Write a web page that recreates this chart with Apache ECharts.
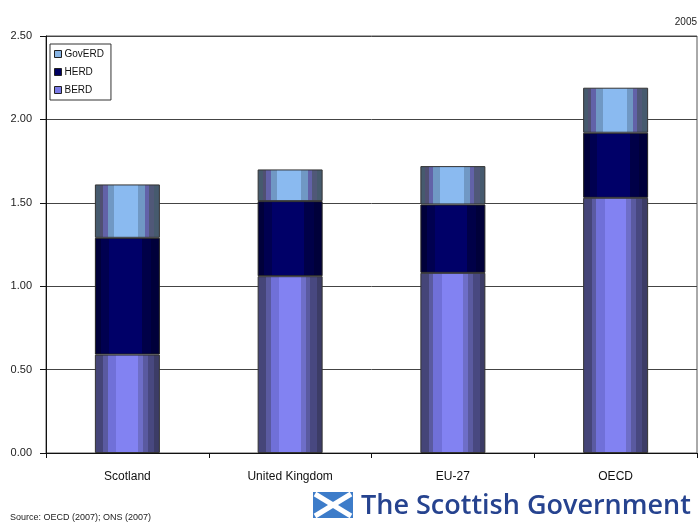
<!DOCTYPE html>
<html>
<head>
<meta charset="utf-8">
<script src="https://cdn.jsdelivr.net/npm/echarts@6/dist/echarts.min.js"></script>
<style>
html,body{margin:0;padding:0;background:#fff;}
#chart{width:699px;height:522px;}
</style>
</head>
<body>
<div id="chart"></div>
<script>
const categories = ['Scotland', 'United Kingdom', 'EU-27', 'OECD'];
const berd = [0.59, 1.06, 1.08, 1.53];
const herd = [0.70, 0.45, 0.41, 0.39];
const goverd = [0.32, 0.19, 0.23, 0.27];
const legendNames = ['GovERD', 'HERD', 'BERD'];
const yMin = 0, yMax = 2.5, yStep = 0.5;

const narrow = "'Liberation Sans Narrow', 'Arial Narrow', 'Liberation Sans', sans-serif";

function bands(list) {
  const stops = [];
  let start = 0;
  list.forEach(function (b) {
    stops.push({offset: start, color: b[1]});
    stops.push({offset: b[0], color: b[1]});
    start = b[0];
  });
  return new echarts.graphic.LinearGradient(0, 0, 1, 0, stops);
}

const berdFill = bands([
  [0.13, '#454578'], [0.20, '#5a5aa0'], [0.33, '#7070d8'], [0.66, '#8282f2'],
  [0.74, '#6e6ec8'], [0.81, '#5a5aa0'], [0.91, '#484880'], [1, '#3c3c66']
]);
const herdFill = bands([
  [0.10, '#00003a'], [0.22, '#000050'], [0.72, '#000068'], [0.86, '#000048'], [1, '#00003a']
]);
const govFill = bands([
  [0.076, '#465a6e'], [0.126, '#505072'], [0.20, '#6262a8'], [0.30, '#7098c4'],
  [0.67, '#8abaf0'], [0.77, '#7098c4'], [0.83, '#6262a8'], [0.91, '#505878'], [1, '#465a6e']
]);

const chart = echarts.init(document.getElementById('chart'));
const barCommon = {
  type: 'bar', stack: 'total', barWidth: 65,
  emphasis: {disabled: true}
};
chart.setOption({
  animation: false,
  backgroundColor: '#ffffff',
  grid: {left: 46, right: 2, top: 36, bottom: 69, show: true, borderColor: '#555', borderWidth: 1},
  legend: {
    left: 50, top: 44, orient: 'vertical',
    borderColor: '#333', borderWidth: 1,
    padding: [5, 7, 5, 4], itemGap: 8, itemWidth: 7, itemHeight: 7,
    icon: 'rect',
    textStyle: {fontSize: 10, fontFamily: narrow, color: '#111', padding: [0, 0, 0, -2]},
    data: [
      {name: legendNames[0], itemStyle: {color: '#88b4e4', borderColor: '#222', borderWidth: 1}},
      {name: legendNames[1], itemStyle: {color: '#000060', borderColor: '#222', borderWidth: 1}},
      {name: legendNames[2], itemStyle: {color: '#7a7ae6', borderColor: '#222', borderWidth: 1}}
    ]
  },
  xAxis: {
    type: 'category', data: categories,
    axisLine: {lineStyle: {color: '#111', width: 1}},
    axisTick: {show: true, length: 5, alignWithLabel: false, lineStyle: {color: '#111'}},
    axisLabel: {margin: 18, fontSize: 12, fontFamily: narrow, color: '#111'}
  },
  yAxis: {
    type: 'value', min: yMin, max: yMax, interval: yStep,
    axisLine: {show: true, lineStyle: {color: '#111', width: 1}},
    axisTick: {show: true, length: 6, lineStyle: {color: '#111'}},
    axisLabel: {margin: 14, fontSize: 11, fontFamily: narrow, color: '#222',
      formatter: function (v) { return v.toFixed(2); }},
    splitLine: {show: true, lineStyle: {color: '#444', width: 1}}
  },
  series: [
    Object.assign({}, barCommon, {name: 'BERD', data: berd,
      itemStyle: {color: berdFill, borderColor: '#333', borderWidth: 1}}),
    Object.assign({}, barCommon, {name: 'HERD', data: herd,
      itemStyle: {color: herdFill, borderColor: '#222', borderWidth: 1}}),
    Object.assign({}, barCommon, {name: 'GovERD', data: goverd,
      itemStyle: {color: govFill, borderColor: '#333', borderWidth: 1}})
  ],
  graphic: [
    {type: 'text', right: 2, top: 17, style: {text: '2005', fontSize: 10, fontFamily: narrow, fill: '#222'}},
    {type: 'text', left: 10, top: 513, style: {text: 'Source: OECD (2007); ONS (2007)', fontSize: 9, fontFamily: narrow, fill: '#222'}},
    {type: 'rect', shape: {x: 313, y: 492, width: 40, height: 26}, style: {fill: '#3d7cc9'}},
    {type: 'line', shape: {x1: 315, y1: 494, x2: 351, y2: 516}, style: {stroke: '#ffffff', lineWidth: 5}},
    {type: 'line', shape: {x1: 351, y1: 494, x2: 315, y2: 516}, style: {stroke: '#ffffff', lineWidth: 5}},
    {type: 'text', left: 361, top: 493, style: {text: 'The Scottish Government', fontSize: 27, fontFamily: "'Open Sans', sans-serif", fontWeight: 600, fill: '#26438f'}}
  ]
});
</script>
</body>
</html>
